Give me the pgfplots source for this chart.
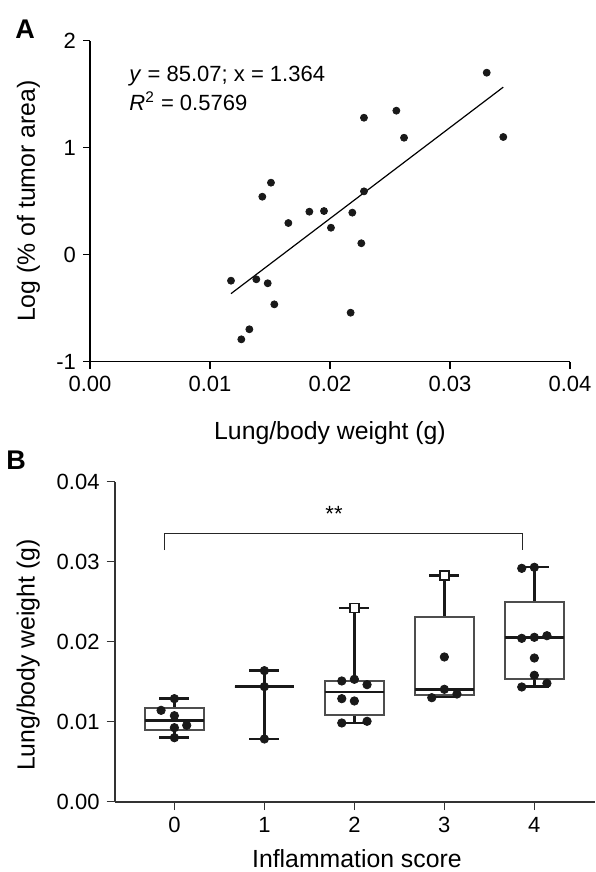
\documentclass[border=0pt]{standalone}
\usepackage{fontspec}
\setmainfont{Liberation Sans}
\usepackage{pgfplots}
\pgfplotsset{compat=1.18}
\usepgfplotslibrary{statistics}

\definecolor{axisgray}{HTML}{333333}
\definecolor{boxgray}{HTML}{4D4D4D}

\newcommand{\lblfont}{\fontsize{12.4}{14}\selectfont}

\begin{document}
\begin{tikzpicture}
\useasboundingbox (0,0) rectangle (297.5pt,436pt);
\pgfplotsset{
  common/.style={
    scale only axis,
    axis lines=left,
    tick align=outside,
    ticklabel style={font=\fontsize{11}{13}\selectfont},
    /pgf/number format/assume math mode=true,
    scaled ticks=false,
    clip=false,
  }
}

% panel labels
\node[anchor=base west, inner sep=0, font=\bfseries\fontsize{13.5}{15}\selectfont] at (7.5pt,416.8pt) {A};
\node[anchor=base west, inner sep=0, font=\bfseries\fontsize{13.5}{15}\selectfont] at (3pt,201pt) {B};

% ---------- A: scatter with regression ----------
\begin{axis}[common,
    at={(45pt,255.15pt)}, anchor=south west,
    width=240pt, height=160.5pt,
    xmin=0, xmax=0.04, ymin=-1, ymax=2,
    xtick={0,0.01,0.02,0.03,0.04},
    ytick={-1,0,1,2},
    xticklabel style={/pgf/number format/.cd, fixed, fixed zerofill, precision=2},
    axis line style={-, line width=0.6pt, black},
    tick style={line width=0.6pt, black},
    major tick length=3.5pt,
    xlabel={Lung/body weight (g)},
    ylabel={Log (\% of tumor area)},
    every axis x label/.style={at={(axis description cs:0.5,-0.222)}, anchor=center, font=\lblfont},
    every axis y label/.style={at={(axis description cs:-0.128,0.5)}, rotate=90, anchor=center, font=\lblfont},
]
\addplot[only marks, mark=*, mark size=1.75pt, color=black!90] coordinates {
  (0.03306,1.701) (0.03444,1.100) (0.02553,1.346) (0.02283,1.280)
  (0.02617,1.093) (0.01508,0.673) (0.01436,0.542) (0.02283,0.592)
  (0.01828,0.402) (0.01950,0.408) (0.02186,0.393) (0.01653,0.296)
  (0.02008,0.252) (0.02261,0.107) (0.01175,-0.243) (0.01386,-0.230)
  (0.01481,-0.267) (0.01536,-0.464) (0.02172,-0.542) (0.01328,-0.697)
  (0.01261,-0.791)
};
% fitted line y = 85.07 x - 1.364
\addplot[black, line width=0.6pt] coordinates {(0.01175,-0.364) (0.03444,1.566)};
\node[anchor=base west, font=\fontsize{11}{13}\selectfont] at (axis cs:0.0027,1.617) {\textit{y} = 85.07; x = 1.364};
\node[anchor=base west, font=\fontsize{11}{13}\selectfont] at (axis cs:0.0027,1.352) {\textit{R}\textsuperscript{2} = 0.5769};
\end{axis}

% ---------- B: box plots ----------
\begin{axis}[common,
    at={(57.5pt,35.15pt)}, anchor=south west,
    width=240pt, height=160pt,
    xmin=-0.66, xmax=4.674, ymin=0, ymax=0.04,
    xtick={0,1,2,3,4},
    ytick={0,0.01,0.02,0.03,0.04},
    yticklabel style={/pgf/number format/.cd, fixed, fixed zerofill, precision=2},
    axis line style={-, line width=1pt, axisgray},
    tick style={line width=0.8pt, axisgray},
    major tick length=4.2pt,
    xlabel={Inflammation score},
    ylabel={Lung/body weight (g)},
    every axis x label/.style={at={(axis description cs:0.504,-0.179)}, anchor=center, inner sep=0pt, font=\lblfont},
    every axis y label/.style={at={(axis description cs:-0.181,0.458)}, rotate=90, anchor=center, font=\lblfont},
    boxplot/draw direction=y,
    boxplot/box extend=0.655,
    boxplot/whisker extend=0.333,
    boxplot/every box/.style={draw=boxgray, line width=0.9pt},
    boxplot/every whisker/.style={black!90, line width=1.2pt},
    boxplot/every median/.style={black!90, line width=1.3pt},
]
\addplot[black, boxplot prepared={draw position=0, lower whisker=0.0080, lower quartile=0.00896,
  median=0.01013, upper quartile=0.01171, upper whisker=0.01288}] coordinates {};
\addplot[black, boxplot prepared={draw position=1, lower whisker=0.00784, lower quartile=0.01438,
  median=0.01438, upper quartile=0.01438, upper whisker=0.01638}] coordinates {};
\addplot[black, boxplot prepared={draw position=2, lower whisker=0.00984, lower quartile=0.0108,
  median=0.01371, upper quartile=0.01513, upper whisker=0.02421}] coordinates {};
\addplot[black, boxplot prepared={draw position=3, lower whisker=0.01309, lower quartile=0.01334,
  median=0.0140, upper quartile=0.02305, upper whisker=0.02825}] coordinates {};
\addplot[black, boxplot prepared={draw position=4, lower whisker=0.01442, lower quartile=0.01538,
  median=0.0205, upper quartile=0.02492, upper whisker=0.0293}] coordinates {};

\addplot[only marks, mark=*, mark size=2.1pt, color=black!90] coordinates {
  (0,0.01288) (-0.148,0.01142) (0,0.01075) (0.137,0.00955) (0,0.00925) (0,0.0080)
  (1,0.01638) (1,0.01438) (1,0.00784)
  (1.86,0.01509) (2,0.0153) (2.141,0.01463) (1.86,0.01288) (2,0.01259) (1.86,0.00984) (2.141,0.01005)
  (3,0.01809) (3,0.01405) (2.86,0.0130) (3.14,0.01346)
  (3.86,0.02917) (4,0.0293) (3.86,0.02042) (4,0.02055) (4.14,0.02075) (4,0.01796) (4,0.0158) (3.86,0.01434) (4.14,0.0148)
};
\addplot[only marks, mark=square*, mark size=2.3pt, mark options={fill=white, draw=black!90, line width=0.8pt}] coordinates {
  (2,0.02421) (3,0.02825)
};

% significance bracket
\addplot[black!85, line width=0.6pt] coordinates {(-0.114,0.03146) (-0.114,0.03355) (3.866,0.03355) (3.866,0.03146)};
\node[font=\fontsize{11}{13}\selectfont] at (axis cs:1.774,0.0360) {**};
\end{axis}
\end{tikzpicture}
\end{document}
